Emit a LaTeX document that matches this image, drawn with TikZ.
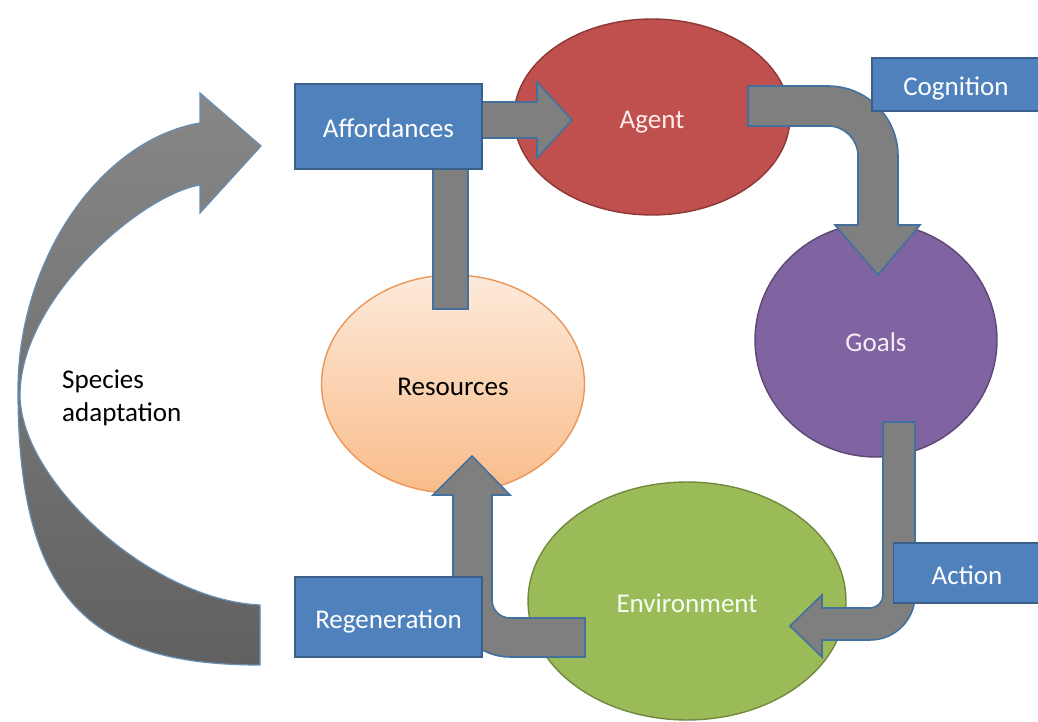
\documentclass[tikz,border=0pt]{standalone}
\usepackage{fontspec}
\setmainfont{Carlito}
\usetikzlibrary{shapes.geometric}
\definecolor{boxblue}{HTML}{4F81BD}
\definecolor{boxedge}{HTML}{3A5F8B}
\definecolor{agentred}{HTML}{C0504D}
\definecolor{agentedge}{HTML}{8C3836}
\definecolor{goalviolet}{HTML}{8064A2}
\definecolor{goaledge}{HTML}{5C4776}
\definecolor{envgreen}{HTML}{9BBB59}
\definecolor{envedge}{HTML}{71893F}
\definecolor{reslight}{HTML}{FDEADA}
\definecolor{resdark}{HTML}{F9BC8A}
\definecolor{resedge}{HTML}{E9975A}
\definecolor{flowgray}{HTML}{7F7F7F}
\definecolor{flowedge}{HTML}{41719C}
\begin{document}
\begin{tikzpicture}[x=0.02cm, y=-0.02cm,
    every node/.style={font=\fontsize{15.4}{18.5}\selectfont},
    blob/.style={ellipse, draw, line width=0.8pt, inner sep=0pt, text height=0.58cm, text depth=0.12cm},
    tag/.style={rectangle, draw=boxedge, fill=boxblue, line width=0.9pt, text=white, inner sep=0pt, text height=0.58cm, text depth=0.12cm},
    flow/.style={fill=flowgray, draw=flowedge, line width=0.9pt}]
    \useasboundingbox (0,0) rectangle (1038,722);

    % the four states of the cycle
    \node [blob, fill=agentred, draw=agentedge, text=red!8, minimum width=5.52cm, minimum height=3.92cm] (agent) at (652,117) {Agent};
    \node [blob, fill=goalviolet, draw=goaledge, text=violet!8, minimum width=4.84cm, minimum height=4.68cm] (goals) at (876,340) {Goals};
    \node [blob, top color=reslight, bottom color=resdark, draw=resedge, minimum width=5.26cm, minimum height=4.36cm] (resources) at (453,384) {Resources};
    \node [blob, fill=envgreen, draw=envedge, text=green!5, minimum width=6.36cm, minimum height=4.76cm] (environment) at (687,601) {Environment};

    % block arrows between them
    \draw [flow] (433,167) rectangle (468,309);
    \draw [flow] (480,102) -- (537,102) -- (537,82) -- (572,120) -- (537,158) -- (537,138) -- (480,138) -- cycle;
    \draw [flow] (748,86) -- (828,86) arc (-90:0:70) -- (898,225) -- (920,225) -- (878,275) -- (835,225) -- (858,225) -- (858,156) arc (0:-90:30) -- (748,126) -- cycle;
    \draw [flow] (883,422) -- (915,422) -- (915,595) arc (0:90:45) -- (822,640) -- (822,657) -- (790,626) -- (822,595) -- (822,608) -- (870,608) arc (90:0:13) -- cycle;
    \draw [flow] (585,618) -- (510,618) arc (90:180:18) -- (492,495) -- (510,495) -- (472,456) -- (433,495) -- (453,495) -- (453,600) arc (180:90:57) -- (585,657) -- cycle;

    % species adaptation, outer loop
    \shadedraw [top color=black!47, bottom color=black!62, draw=flowedge!80, line width=0.7pt]
        (260,605) .. controls (150,600) and (20,480) .. (20,395)
        .. controls (20,300) and (140,195) .. (200,185)
        -- (200,213) -- (261,146) -- (200,93) -- (200,123)
        .. controls (100,140) and (18,260) .. (18,390)
        .. controls (18,600) and (90,665) .. (260,665) -- cycle;
    \node [anchor=west, align=left] (adapt) at (56,398) {Species\\adaptation};

    % labels on the transitions
    \node [tag, minimum width=3.74cm, minimum height=1.7cm] (afford) at (388.5,126.5) {Affordances};
    \node [tag, minimum width=3.36cm, minimum height=1.06cm] (cogn) at (956,84.5) {Cognition};
    \node [tag, minimum width=2.94cm, minimum height=1.2cm] (act) at (967,573) {Action};
    \node [tag, minimum width=3.74cm, minimum height=1.6cm] (regen) at (388.5,617) {Regeneration};
\end{tikzpicture}
\end{document}
